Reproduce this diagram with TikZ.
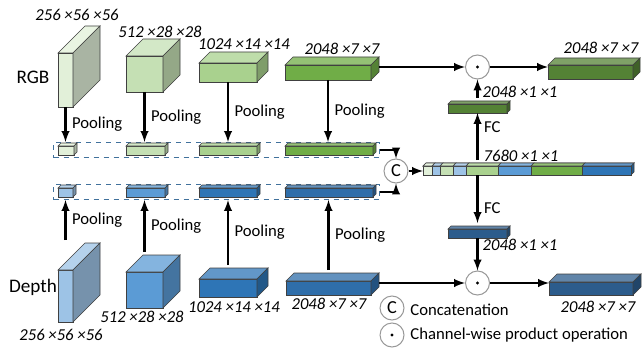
\documentclass[tikz,border=0pt]{standalone}
\usepackage{fontspec}
\setmainfont{Carlito}
\usetikzlibrary{calc, arrows, positioning}

\definecolor{rgbA}{HTML}{E2F0D9}
\definecolor{rgbB}{HTML}{C5E0B4}
\definecolor{rgbC}{HTML}{A9D18E}
\definecolor{rgbD}{HTML}{70AD47}
\definecolor{rgbE}{HTML}{548235}
\definecolor{depA}{HTML}{9DC3E6}
\definecolor{depB}{HTML}{5B9BD5}
\definecolor{depC}{HTML}{2E75B6}
\definecolor{depD}{HTML}{2F6EAA}
\definecolor{depE}{HTML}{2C5C8C}
\definecolor{boxline}{HTML}{41719C}

\tikzset{
  face/.style={draw=black!75, line width=0.4pt},
  flow/.style={-latex, line width=1.25pt},
  poolbox/.style={draw=boxline, dashed, line width=0.6pt, anchor=north west,
                  inner sep=0, minimum height=15*0.6pt},
  opnode/.style={circle, draw=black!40, fill=white, line width=0.6pt, inner sep=0,
                 minimum size=24*0.6pt, font=\fontsize{11}{13}\selectfont},
  dims/.style={font=\itshape\fontsize{10}{12}\selectfont},
  plain/.style={font=\fontsize{10}{12}\selectfont},
  stream/.style={font=\fontsize{11.5}{14}\selectfont}
}

% cuboid: name, front top-left corner, width, height, depth, colour (all in px)
\newcommand{\cuboid}[6]{%
  \node[face, fill=#6, anchor=north west, inner sep=0, outer sep=0,
        minimum width=#3*0.6pt, minimum height=#4*0.6pt] (#1) at (#2) {};
  \draw[face, fill=#6!75!white] (#1.north west) -- ++(#5,-#5) -- ++(#3,0) -- (#1.north east) -- cycle;
  \draw[face, fill=#6!75!black] (#1.north east) -- ++(#5,-#5) -- ++(0,#4) -- (#1.south east) -- cycle;
  \coordinate (#1-up) at ($(#1.north)+(0,-#5-3)$);
  \coordinate (#1-back) at ($(#1.east)+(#5,-#5)$);
}

\begin{document}
\begin{tikzpicture}[x=0.6pt, y=-0.6pt, every node/.append style={plain}]
  \useasboundingbox (0,0) rectangle (642,348);

  % backbone features
  \cuboid{r1}{58,53}{15}{54}{27}{rgbA}
  \cuboid{r2}{126,56}{37}{36}{17}{rgbB}
  \cuboid{r3}{199,63}{58}{19}{11}{rgbC}
  \cuboid{r4}{285,65}{86}{15}{8}{rgbD}
  \cuboid{d1}{58,270}{15}{52}{27}{depA}
  \cuboid{d2}{126,272}{37}{36}{17}{depB}
  \cuboid{d3}{199,279}{58}{18}{11}{depC}
  \cuboid{d4}{286,281}{85}{14}{8}{depD}

  \node[stream] (rgb) at (33,77) {RGB};
  \node[stream] (depth) at (33,287) {Depth};

  \node[dims] at (77,15) {256 ×56 ×56};
  \node[dims] at (160,32) {512 ×28 ×28};
  \node[dims] at (244,44) {1024 ×14 ×14};
  \node[dims] at (342,49) {2048 ×7 ×7};
  \node[dims] at (61,335) {256 ×56 ×56};
  \node[dims] at (142,317) {512 ×28 ×28};
  \node[dims] at (234,307) {1024 ×14 ×14};
  \node[dims] at (329,304) {2048 ×7 ×7};

  % pooled vectors
  \node[poolbox, minimum width=326*0.6pt] (rbox) at (53,142) {};
  \node[poolbox, minimum width=326*0.6pt] (dbox) at (53,184) {};
  \foreach \n/\x/\w/\c in {1/58/16/rgbA, 2/126/39/rgbB, 3/199/58/rgbC, 4/285/88/rgbD}
    {\cuboid{rp\n}{\x,146}{\w}{9}{3}{\c}}
  \foreach \n/\x/\w/\c in {1/58/15/depA, 2/126/39/depB, 3/199/58/depC, 4/285/88/depD}
    {\cuboid{dp\n}{\x,188}{\w}{9}{3}{\c}}

  \path[flow]
    (r1.south) edge node[right] {Pooling} (r1.south |- rbox.north)
    (r2.south) edge node[right] {Pooling} (r2.south |- rbox.north)
    (r3.south) edge node[right] {Pooling} (r3.south |- rbox.north)
    (r4.south) edge node[right] {Pooling} (r4.south |- rbox.north)
    (d1-up) edge node[right] {Pooling} (d1-up |- dbox.south)
    (d2-up) edge node[right] {Pooling} (d2-up |- dbox.south)
    (d3-up) edge node[right] {Pooling} (d3-up |- dbox.south)
    (d4-up) edge node[right] {Pooling} (d4-up |- dbox.south);

  % concatenation
  \node[opnode] (catop) at (396,171) {C};
  \draw[flow] (rbox.east) -| (catop);
  \draw[flow] (dbox.east) -| (catop);

  \cuboid{cat}{423,166}{208}{9}{3}{depC}
  \foreach \a/\b/\c in {423/432/rgbA, 432/440/depA, 440/453/rgbB, 453/466/depA,
                        466/498/rgbC, 498/531/depB, 531/582/rgbD, 582/631/depC}
    {\draw[face, fill=\c] (\a,166) rectangle (\b,175);
     \draw[face, fill=\c!75!white] (\a,166) -- ++(3,-3) -- (\b+3,163) -- (\b,166) -- cycle;}
  \draw[flow] (catop) -- (catop -| cat.west);
  \node[dims] at (521,156) {7680 ×1 ×1};

  % channel attention
  \cuboid{f1}{448,104}{59}{9}{3}{rgbE}
  \cuboid{f2}{448,229}{59}{9}{3}{depE}
  \path[flow]
    (f1.south |- cat-up) edge node[right, pos=0.7] {FC} (f1.south)
    (f2.north |- cat.south) edge node[right, pos=0.7] {FC} (f2-up);
  \node[dims] at (520,92) {2048 ×1 ×1};
  \node[dims] at (520,245) {2048 ×1 ×1};

  \node[opnode] (prodr) at (477.5,67) {};
  \node[opnode] (prodd) at (477.5,283) {};
  \fill (prodr) circle (1.6);
  \fill (prodd) circle (1.6);

  \draw[flow] (r4-back |- prodr) -- (prodr);
  \draw[flow] (d4-back |- prodd) -- (prodd);
  \draw[flow] (f1-up) -- (prodr);
  \draw[flow] (f2.south) -- (prodd);

  \cuboid{o1}{548,65}{85}{14}{7}{rgbE}
  \cuboid{o2}{549,282}{84}{13}{8}{depE}
  \draw[flow] (prodr) -- (prodr -| o1.west);
  \draw[flow] (prodd) -- (prodd -| o2.west);
  \node[dims] at (601,48) {2048 ×7 ×7};
  \node[dims] at (598,307) {2048 ×7 ×7};

  % legend
  \node[opnode] (lgc) at (392,308) {C};
  \node[opnode] (lgp) at (392,335) {};
  \fill (lgp) circle (1.6);
  \node[right=0pt of lgc, yshift=-1pt] (lgctext) {Concatenation};
  \node[right=0pt of lgp] (lgptext) {Channel-wise product operation};
\end{tikzpicture}
\end{document}
